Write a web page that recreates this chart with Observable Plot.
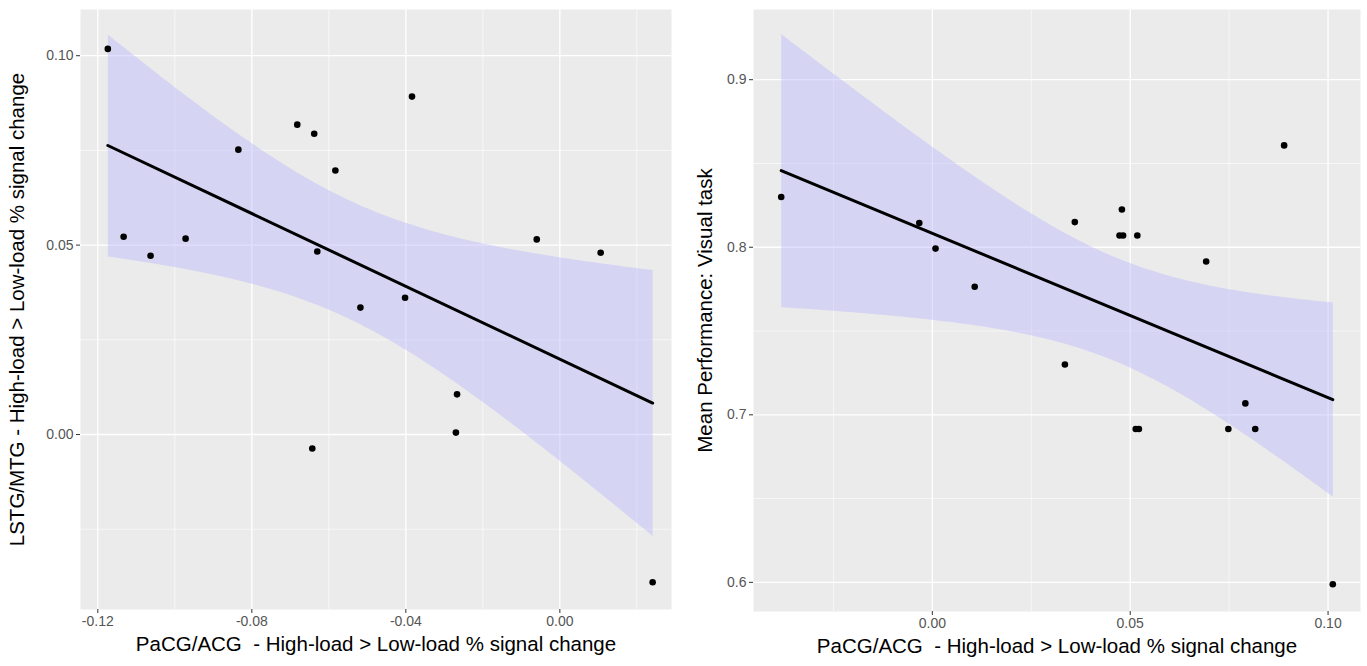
<!DOCTYPE html>
<html><head><meta charset="utf-8">
<script src="https://cdn.jsdelivr.net/npm/d3@7"></script>
<script src="https://cdn.jsdelivr.net/npm/@observablehq/plot@0.6"></script>
<style>
body{margin:0;background:#fff;}
#wrap{display:flex;width:1367px;height:666px;overflow:hidden;}
text{white-space:pre;}
</style></head><body><div id="wrap"></div>
<script>
// Left panel: PaCG/ACG vs LSTG/MTG
const leftX = [-0.1174,-0.1133,-0.1063,-0.0972,-0.0835,-0.0682,-0.0638,-0.0583,-0.0630,-0.0643,-0.0518,-0.0402,-0.0384,-0.0267,-0.0270,-0.0060,0.0106,0.0241];
const leftY = [0.1018,0.0522,0.0472,0.0517,0.0752,0.0818,0.0794,0.0697,0.0483,-0.0037,0.0335,0.0361,0.0892,0.0106,0.0005,0.0515,0.0480,-0.0390];
// Right panel: signal change vs mean performance
const rightX = [-0.0382,-0.0033,0.0008,0.0107,0.0360,0.0479,0.0473,0.0482,0.0518,0.0692,0.0889,0.0335,0.0514,0.0522,0.0748,0.0791,0.0816,0.1012];
const rightY = [0.830,0.8145,0.7992,0.7764,0.815,0.8225,0.807,0.807,0.807,0.7915,0.8608,0.730,0.6915,0.6915,0.6915,0.7068,0.6915,0.5989];

const leftXTicks = [-0.12,-0.08,-0.04,0.00];
const leftXMinor = [-0.10,-0.06,-0.02,0.02];
const leftYTicks = [0.00,0.05,0.10];
const leftYMinor = [-0.025,0.025,0.075];
const rightXTicks = [0.00,0.05,0.10];
const rightXMinor = [-0.025,0.025,0.075];
const rightYTicks = [0.6,0.7,0.8,0.9];
const rightYMinor = [0.65,0.75,0.85];

const leftXLabel = "PaCG/ACG  - High-load > Low-load % signal change";
const leftYLabel = "LSTG/MTG - High-load > Low-load % signal change";
const rightXLabel = "PaCG/ACG  - High-load > Low-load % signal change";
const rightYLabel = "Mean Performance: Visual task";

function panel(o) {
  const data = o.xs.map((x, i) => ({x, y: o.ys[i]}));
  return Plot.plot({
    width: o.width, height: 666,
    marginLeft: o.ml, marginRight: o.mr, marginTop: o.mt, marginBottom: o.mb,
    style: {fontFamily: "'Liberation Sans', Arial, sans-serif", fontSize: "14px", background: "white", overflow: "visible"},
    x: {domain: o.xDomain},
    y: {domain: o.yDomain},
    marks: [
      Plot.frame({fill: "#ebebeb", stroke: "none"}),
      Plot.ruleX(o.xMinor, {stroke: "white", strokeWidth: 0.6}),
      Plot.ruleY(o.yMinor, {stroke: "white", strokeWidth: 0.6}),
      Plot.ruleX(o.xTicks, {stroke: "white", strokeWidth: 1.3}),
      Plot.ruleY(o.yTicks, {stroke: "white", strokeWidth: 1.3}),
      Plot.linearRegressionY(data, {x: "x", y: "y", stroke: "black", strokeWidth: 3, fill: "#b3b3ff", fillOpacity: 0.4, ci: 0.95}),
      Plot.dot(data, {x: "x", y: "y", r: 3.3, fill: "black", stroke: "none"}),
      Plot.axisX({ticks: o.xTicks, tickFormat: d => d.toFixed(o.xFmt), tickSize: 4, tickPadding: 3, stroke: "#333", fill: "#555", fontSize: 14, label: null}),
      Plot.axisY({ticks: o.yTicks, tickFormat: d => d.toFixed(o.yFmt), tickSize: 4, tickPadding: 3, stroke: "#333", fill: "#555", fontSize: 14, label: null}),
      Plot.text([o.xLabel], {text: d => d, frameAnchor: "bottom", textAnchor: "middle", dy: 41, fontSize: 20.5, fill: "black"}),
      Plot.text([o.yLabel], {text: d => d, frameAnchor: "left", textAnchor: "middle", rotate: -90, dx: o.ydx, fontSize: 20.5, fill: "black"})
    ]
  });
}

const wrap = document.getElementById("wrap");
wrap.append(panel({
  xs: leftX, ys: leftY, width: 683, ml: 80, mr: 12, mt: 9, mb: 57,
  xDomain: [-0.1245, 0.0290], yDomain: [-0.0462, 0.1122],
  xTicks: leftXTicks, xMinor: leftXMinor, yTicks: leftYTicks, yMinor: leftYMinor,
  xFmt: 2, yFmt: 2, xLabel: leftXLabel, yLabel: leftYLabel, ydx: -63
}));
wrap.append(panel({
  xs: rightX, ys: rightY, width: 684, ml: 70, mr: 7, mt: 9, mb: 55,
  xDomain: [-0.0452, 0.1082], yDomain: [0.5826, 0.9419],
  xTicks: rightXTicks, xMinor: rightXMinor, yTicks: rightYTicks, yMinor: rightYMinor,
  xFmt: 2, yFmt: 1, xLabel: rightXLabel, yLabel: rightYLabel, ydx: -48
}));
</script>
</body></html>
